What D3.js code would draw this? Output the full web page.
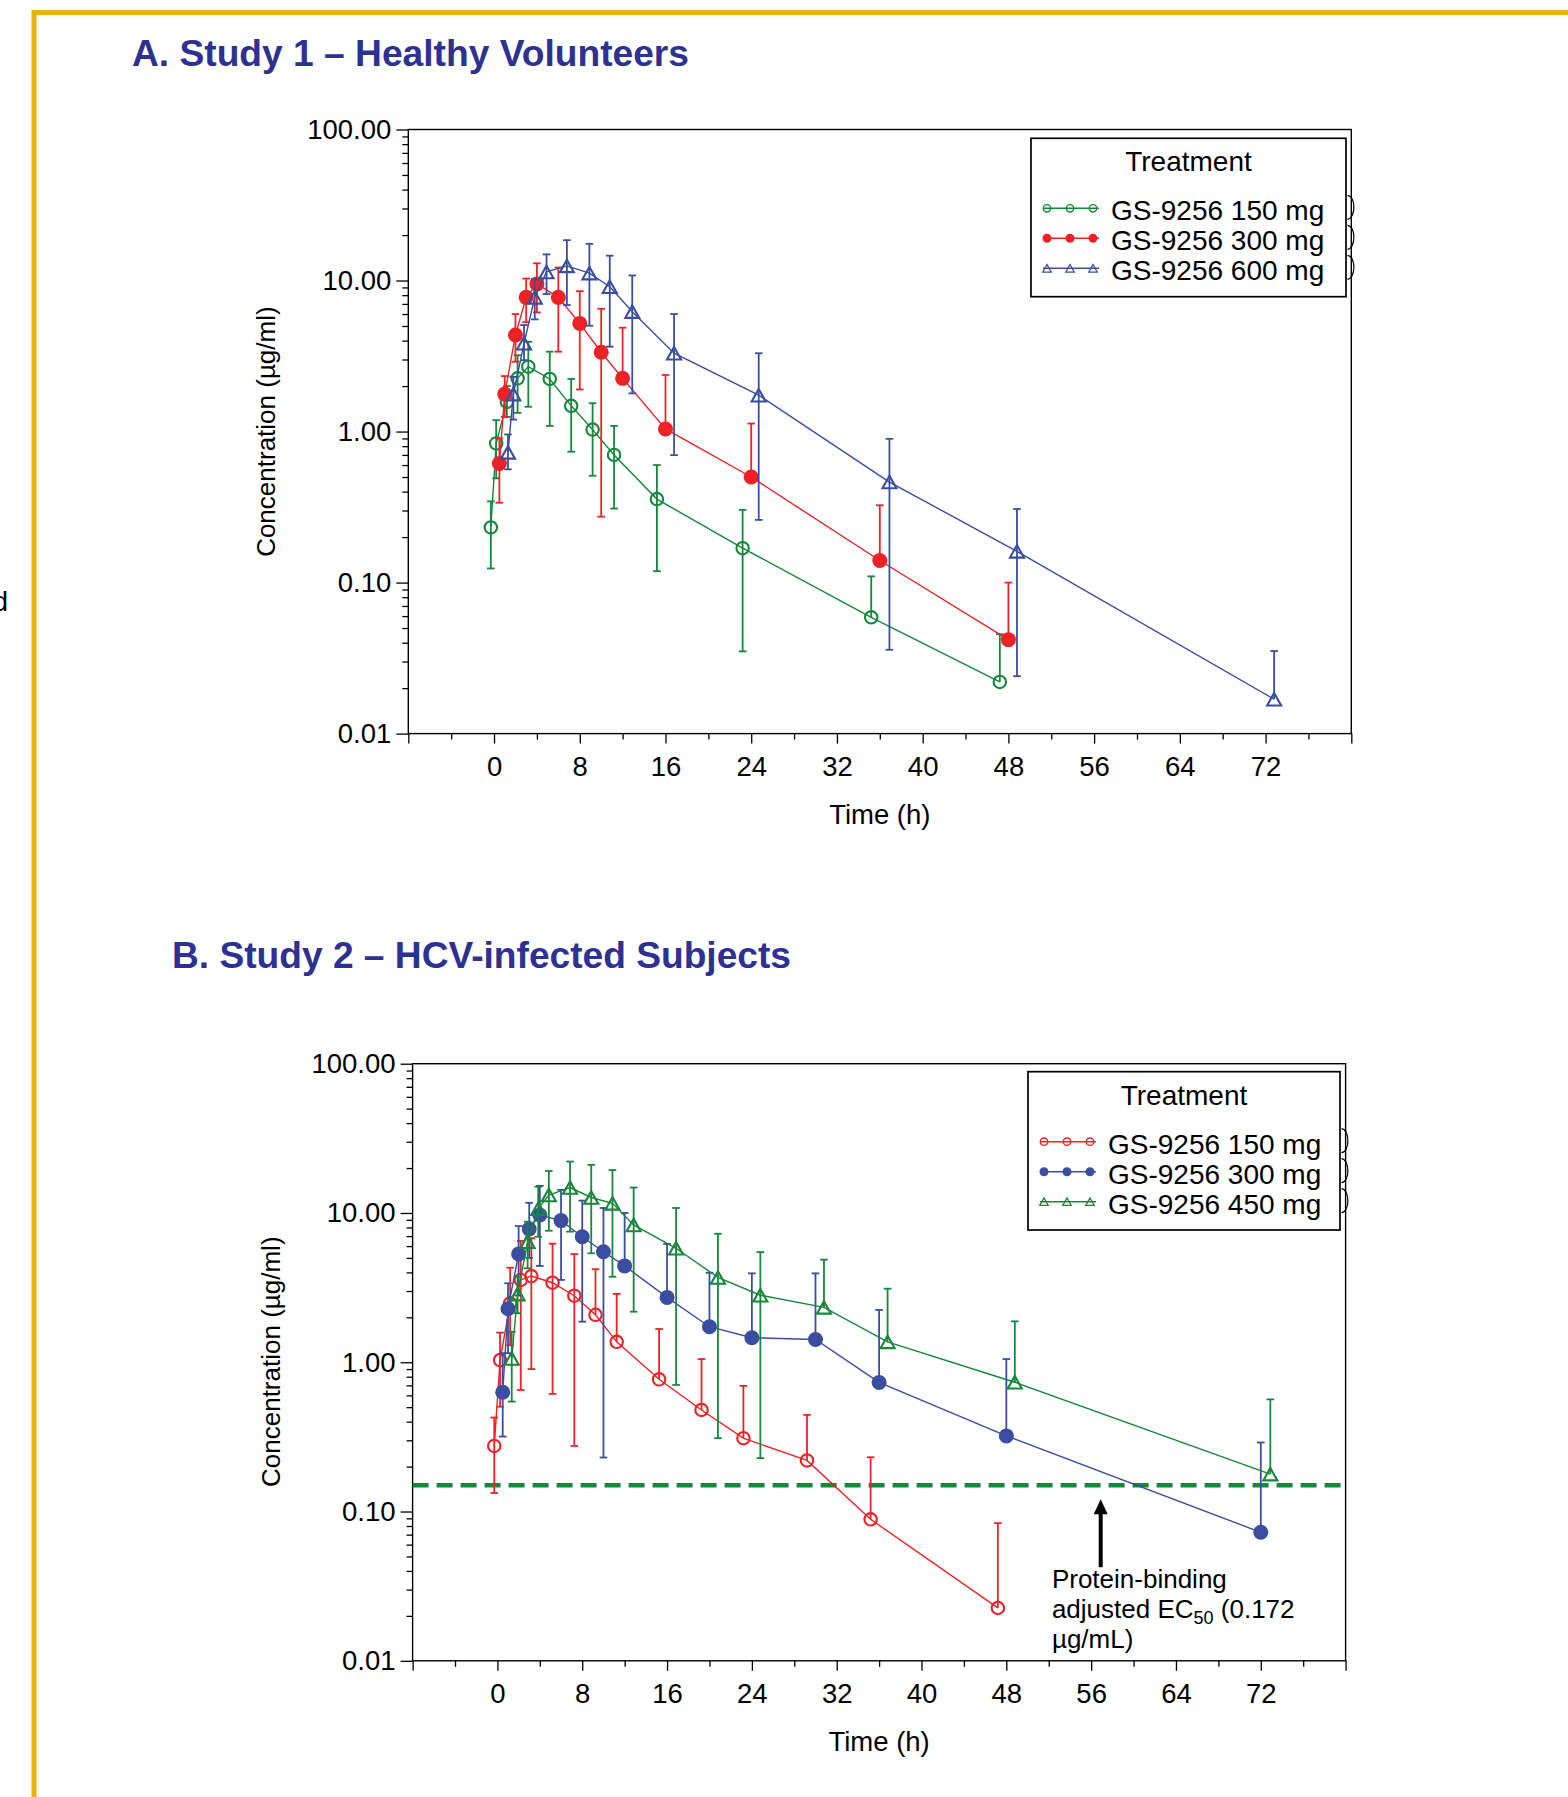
<!DOCTYPE html>
<html>
<head>
<meta charset="utf-8">
<script src="https://cdn.jsdelivr.net/npm/d3@7"></script>
<style>
    html, body { margin: 0; padding: 0; background: #fff; }
    svg { display: block; }
    text { font-family: "Liberation Sans", Arial, Helvetica, sans-serif; fill: #000; }
    .panel-title { font-weight: bold; font-size: 37px; fill: #2E3192; }
    .axis text { font-size: 27.5px; }
    .axis line { stroke: #000; stroke-width: 1.3; }
    .axis-title { font-size: 26px; }
    .x-title { font-size: 27.5px; }
    .legend text { font-size: 28px; }
    .note { font-size: 26px; }
</style>
</head>
<body>
<svg id="chart" width="1568" height="1797"></svg>
<script>
(function (d3) {
    'use strict';

    /*
     * every series row: [time (h), mean, lower bar end, upper bar end]
     * a null lower end means the bar is only drawn upward
     */
    var study1Dose150 = [
        [-0.3, 0.232, 0.124, 0.345], [0.2, 0.835, 0.49, 1.19], [1.2, 1.57, 1.25, 2.0],
        [2.2, 2.25, 1.33, 3.2], [3.2, 2.69, 1.46, 3.93], [5.2, 2.23, 1.09, 3.38],
        [7.2, 1.48, 0.735, 2.23], [9.2, 1.03, 0.51, 1.54], [11.2, 0.70, 0.309, 1.09],
        [15.2, 0.357, 0.119, 0.60], [23.2, 0.169, 0.035, 0.303], [35.2, 0.0589, null, 0.110],
        [47.2, 0.022, null, 0.0455]
    ];
    var study1Dose300 = [
        [0.5, 0.615, 0.338, 0.9], [1.0, 1.77, 1.25, 2.33], [2.0, 4.36, 2.9, 6.0],
        [3.0, 7.74, 5.3, 10.3], [4.0, 9.5, 6.15, 13.0], [6.0, 7.74, 3.38, 12.2],
        [8.0, 5.2, 1.9, 8.5], [10.0, 3.35, 0.273, 6.5], [12.0, 2.25, null, 4.87],
        [16.0, 1.04, null, 2.37], [24.0, 0.50, null, 1.13], [36.0, 0.14, null, 0.325],
        [48.0, 0.0419, null, 0.1]
    ];
    var study1Dose600 = [
        [1.3, 0.728, 0.562, 0.957], [1.8, 1.77, 1.2, 2.3], [2.8, 3.84, 2.97, 5.07],
        [3.8, 7.74, 5.53, 10.2], [4.9, 11.4, 8.14, 14.9], [6.8, 12.5, 6.88, 18.5],
        [8.9, 11.2, 5.02, 17.5], [10.8, 9.1, 3.65, 14.6], [12.9, 6.22, 1.79, 10.8],
        [16.8, 3.3, 0.698, 6.0], [24.7, 1.74, 0.26, 3.3], [36.9, 0.463, 0.0359, 0.895],
        [48.8, 0.161, 0.024, 0.307], [72.8, 0.0169, null, 0.0352]
    ];

    var study2Dose150 = [
        [-0.3, 0.275, 0.133, 0.426], [0.25, 1.035, 0.504, 1.58], [1.2, 2.48, 1.3, 4.3],
        [2.2, 3.56, 0.652, 6.49], [3.2, 3.78, 0.9, 6.77], [5.2, 3.41, 0.614, 6.23],
        [7.25, 2.79, 0.275, 5.31], [9.25, 2.08, null, 4.2], [11.25, 1.37, null, 2.87],
        [15.25, 0.769, null, 1.67], [19.25, 0.479, null, 1.05], [23.2, 0.31, null, 0.695],
        [29.2, 0.22, null, 0.444], [35.2, 0.0887, null, 0.231], [47.2, 0.0226, null, 0.0836]
    ];
    var study2Dose300 = [
        [0.5, 0.63, 0.318, 1.15], [1.0, 2.28, 1.15, 3.38], [2.0, 5.31, 2.8, 8.18],
        [3.0, 7.81, 5.0, 11.7], [4.0, 9.7, 4.42, 15.2], [6.0, 8.89, 3.56, 14.3],
        [8.0, 6.93, 1.87, 12.1], [10.0, 5.5, 0.23, 10.8], [12.0, 4.42, null, 10.0],
        [16.0, 2.72, null, 6.2], [20.0, 1.73, null, 3.98], [24.0, 1.46, null, 3.94],
        [30.0, 1.42, null, 3.94], [36.0, 0.733, null, 2.24], [48.0, 0.321, null, 1.05],
        [72.0, 0.0726, null, 0.29]
    ];
    var study2Dose450 = [
        [1.35, 1.06, 0.545, 1.6], [1.9, 2.86, 2.13, 3.74], [2.85, 6.42, 4.26, 8.75],
        [3.85, 10.7, 6.93, 15.0], [4.85, 13.2, 7.6, 19.1], [6.85, 14.8, 7.5, 22.1],
        [8.85, 12.7, 5.37, 21.0], [10.85, 11.6, 3.74, 19.4], [12.85, 8.31, 2.18, 14.8],
        [16.85, 5.8, 0.705, 10.8], [20.8, 3.70, 0.31, 7.26], [24.8, 2.81, 0.228, 5.47],
        [30.8, 2.33, null, 4.87], [36.8, 1.37, null, 3.11], [48.8, 0.735, null, 1.88],
        [72.9, 0.178, null, 0.564]
    ];

    var study1Labels = ['GS-9256 150 mg', 'GS-9256 300 mg', 'GS-9256 600 mg'];
    var study2Labels = ['GS-9256 150 mg', 'GS-9256 300 mg', 'GS-9256 450 mg'];

    var xDomain     = [-8, 80];
    var xMajorTicks = [-8, 0, 8, 16, 24, 32, 40, 48, 56, 64, 72, 80];
    var xMinorTicks = [-4, 4, 12, 20, 28, 36, 44, 52, 60, 68, 76];
    var xLabelled   = [0, 8, 16, 24, 32, 40, 48, 56, 64, 72];
    var yDomain     = [0.01, 100];
    var yMajorTicks = [0.01, 0.1, 1, 10, 100];
    var ec50Line    = 0.15; // drawn level of the dashed reference line
    var arrowHour   = 56.9;

    var colors = {
        green: '#16873B',
        red  : '#EE2226',
        blue : '#3B4DA1',
        gold : '#EBB20F'
    };

    var panels = [
        {
            title: 'A. Study 1 \u2013 Healthy Volunteers', titleX: 132, titleY: 66, titleWidth: 557,
            left: 408.3, right: 1351.3, top: 129.5, bottom: 733.6,
            yTitleX: 275, yTitleY: 431.6,
            legend: { x: 1031, y: 138.3, w: 315, h: 158.4 },
            series: [
                { label: study1Labels[0], data: study1Dose150, color: colors.green, marker: 'circle' },
                { label: study1Labels[1], data: study1Dose300, color: colors.red,   marker: 'dot' },
                { label: study1Labels[2], data: study1Dose600, color: colors.blue,  marker: 'triangle' }
            ]
        },
        {
            title: 'B. Study 2 \u2013 HCV-infected Subjects', titleX: 172, titleY: 968, titleWidth: 619,
            left: 412.6, right: 1345.6, top: 1063.7, bottom: 1660.8,
            yTitleX: 279.5, yTitleY: 1361.7,
            legend: { x: 1028, y: 1071.7, w: 312, h: 158.3 },
            ec50: true,
            series: [
                { label: study2Labels[0], data: study2Dose150, color: colors.red,   marker: 'circle' },
                { label: study2Labels[1], data: study2Dose300, color: colors.blue,  marker: 'dot' },
                { label: study2Labels[2], data: study2Dose450, color: colors.green, marker: 'triangle' }
            ]
        }
    ];

    var svg = d3.select('#chart');

    // page frame (gold rule along the top and left) and the clipped letter at the edge
    svg.append('line').attr('x1', 32).attr('x2', 1568).attr('y1', 12.5).attr('y2', 12.5)
        .attr('stroke', colors.gold).attr('stroke-width', 5);
    svg.append('line').attr('x1', 34).attr('x2', 34).attr('y1', 10).attr('y2', 1797)
        .attr('stroke', colors.gold).attr('stroke-width', 5);
    svg.append('text').attr('x', 8).attr('y', 611).attr('text-anchor', 'end')
        .style('font-size', '28px').text('d');

    panels.forEach(function (p) {
        drawPanel(p);
    });

    function drawPanel(p) {
        var x = d3.scaleLinear().domain(xDomain).range([p.left, p.right]),
            y = d3.scaleLog().domain(yDomain).range([p.bottom, p.top]),
            g = svg.append('g'),
            yMinor = [],
            axis;

        yMajorTicks.slice(0, -1).forEach(function (base) {
            d3.range(2, 10).forEach(function (k) {
                yMinor.push(base * k);
            });
        });

        g.append('text').attr('class', 'panel-title')
            .attr('x', p.titleX).attr('y', p.titleY)
            .attr('textLength', p.titleWidth).attr('lengthAdjust', 'spacingAndGlyphs')
            .text(p.title);

        // x axis: long ticks every 8 h, short ones in between
        axis = g.append('g').attr('class', 'axis').attr('transform', 'translate(0,' + p.bottom + ')')
            .call(d3.axisBottom(x).tickValues(xMajorTicks).tickSize(10).tickPadding(12.5)
                .tickFormat(function (d) { return xLabelled.indexOf(d) >= 0 ? d : ''; }));
        cleanAxis(axis);
        axis = g.append('g').attr('class', 'axis').attr('transform', 'translate(0,' + p.bottom + ')')
            .call(d3.axisBottom(x).tickValues(xMinorTicks).tickSize(6).tickFormat(''));
        cleanAxis(axis);

        // y axis: log decades with minor ticks
        axis = g.append('g').attr('class', 'axis').attr('transform', 'translate(' + p.left + ',0)')
            .call(d3.axisLeft(y).tickValues(yMajorTicks).tickSize(12).tickPadding(5)
                .tickFormat(d3.format('.2f')));
        cleanAxis(axis);
        axis = g.append('g').attr('class', 'axis').attr('transform', 'translate(' + p.left + ',0)')
            .call(d3.axisLeft(y).tickValues(yMinor).tickSize(6).tickFormat(''));
        cleanAxis(axis);

        g.append('rect')
            .attr('x', p.left).attr('y', p.top)
            .attr('width', p.right - p.left).attr('height', p.bottom - p.top)
            .attr('fill', 'none').attr('stroke', '#000').attr('stroke-width', 1.4);

        g.append('text').attr('class', 'axis-title')
            .attr('transform', 'translate(' + p.yTitleX + ',' + p.yTitleY + ') rotate(-90)')
            .attr('text-anchor', 'middle')
            .text('Concentration (\u00b5g/ml)');
        g.append('text').attr('class', 'x-title')
            .attr('x', (p.left + p.right) / 2).attr('y', p.bottom + 90)
            .attr('text-anchor', 'middle')
            .text('Time (h)');

        if (p.ec50) {
            drawEc50(g, x, y, p);
        }

        p.series.forEach(function (s) {
            drawSeries(g, x, y, s);
        });

        drawLegend(g, p);
    }

    function cleanAxis(axis) {
        axis.attr('font-family', null).attr('font-size', null);
        axis.select('.domain').remove();
    }

    function drawSeries(g, x, y, s) {
        var sg = g.append('g'),
            line = d3.line()
                .x(function (d) { return x(d[0]); })
                .y(function (d) { return y(d[1]); }),
            cap = 3.8;

        sg.append('path').datum(s.data)
            .attr('d', line)
            .attr('fill', 'none').attr('stroke', s.color).attr('stroke-width', 1.4);

        s.data.forEach(function (d) {
            var cx = x(d[0]);
            [d[2], d[3]].forEach(function (end) {
                if (end === null) {
                    return;
                }
                sg.append('line')
                    .attr('x1', cx).attr('x2', cx)
                    .attr('y1', y(d[1])).attr('y2', y(end))
                    .attr('stroke', s.color).attr('stroke-width', 1.8);
                sg.append('line')
                    .attr('x1', cx - cap).attr('x2', cx + cap)
                    .attr('y1', y(end)).attr('y2', y(end))
                    .attr('stroke', s.color).attr('stroke-width', 1.8);
            });
        });

        s.data.forEach(function (d) {
            addMarker(sg, s.marker, x(d[0]), y(d[1]), s.color, 1);
        });
    }

    function addMarker(sel, type, cx, cy, color, k) {
        var w, h;
        if (type === 'circle') {
            sel.append('circle').attr('cx', cx).attr('cy', cy).attr('r', 6.2 * k)
                .attr('fill', 'none').attr('stroke', color).attr('stroke-width', k < 1 ? 1.4 : 2.1);
        } else if (type === 'dot') {
            sel.append('circle').attr('cx', cx).attr('cy', cy).attr('r', 7.5 * k)
                .attr('fill', color);
        } else {
            w = 14 * k;
            h = 12.5 * k;
            sel.append('path')
                .attr('d', 'M' + cx + ',' + (cy - h / 2) +
                    'L' + (cx + w / 2) + ',' + (cy + h / 2) +
                    'L' + (cx - w / 2) + ',' + (cy + h / 2) + 'Z')
                .attr('fill', 'none').attr('stroke', color).attr('stroke-width', k < 1 ? 1.3 : 2.1);
        }
    }

    function drawLegend(g, p) {
        var b = p.legend,
            lg = g.append('g').attr('class', 'legend');

        lg.append('rect')
            .attr('x', b.x).attr('y', b.y).attr('width', b.w).attr('height', b.h)
            .attr('fill', '#fff').attr('stroke', '#000').attr('stroke-width', 1.7);

        lg.append('text')
            .attr('x', b.x + b.w / 2).attr('y', b.y + 33)
            .attr('text-anchor', 'middle')
            .text('Treatment');

        p.series.forEach(function (s, i) {
            var base = b.y + 82 + i * 30,
                my = base - 12;

            lg.append('line')
                .attr('x1', b.x + 12).attr('x2', b.x + 68)
                .attr('y1', my).attr('y2', my)
                .attr('stroke', s.color).attr('stroke-width', 1.4);
            [16, 39, 62].forEach(function (dx) {
                addMarker(lg, s.marker, b.x + dx, my, s.color, 0.6);
            });
            lg.append('text').attr('x', b.x + 80).attr('y', base).text(s.label);

            // small bracket marks left over just outside the box
            lg.append('path')
                .attr('d', 'M' + (b.x + b.w + 1.5) + ',' + (base - 25) +
                    'C' + (b.x + b.w + 10) + ',' + (base - 24) + ' ' +
                    (b.x + b.w + 10) + ',' + (base - 2) + ' ' +
                    (b.x + b.w + 1.5) + ',' + (base - 1))
                .attr('fill', 'none').attr('stroke', '#000').attr('stroke-width', 1.2);
        });
    }

    function drawEc50(g, x, y, p) {
        var ly = y(ec50Line),
            ax = x(arrowHour),
            tipY = ly + 14,
            note;

        g.append('line')
            .attr('x1', p.left).attr('x2', p.right)
            .attr('y1', ly).attr('y2', ly)
            .attr('stroke', colors.green).attr('stroke-width', 4.5)
            .attr('stroke-dasharray', '16,8');

        g.append('line')
            .attr('x1', ax).attr('x2', ax)
            .attr('y1', tipY + 12).attr('y2', tipY + 68)
            .attr('stroke', '#000').attr('stroke-width', 4);
        g.append('path')
            .attr('d', 'M' + ax + ',' + tipY + 'L' + (ax + 7) + ',' + (tipY + 15) +
                'L' + (ax - 7) + ',' + (tipY + 15) + 'Z')
            .attr('fill', '#000');

        note = g.append('text').attr('class', 'note')
            .attr('x', x(52.3)).attr('y', ly + 103);
        note.append('tspan').attr('x', x(52.3)).text('Protein-binding');
        note.append('tspan').attr('x', x(52.3)).attr('dy', 30).text('adjusted EC');
        note.append('tspan').attr('dy', 6).style('font-size', '18px').text('50');
        note.append('tspan').attr('dy', -6).text(' (0.172');
        note.append('tspan').attr('x', x(52.3)).attr('dy', 30).text('\u00b5g/mL)');
    }
}(window.d3));
</script>
</body>
</html>
